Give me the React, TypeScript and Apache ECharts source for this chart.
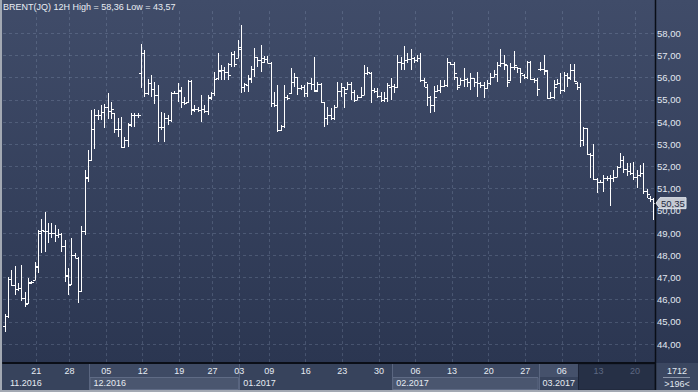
import React, { useEffect, useRef } from 'react';
import * as echarts from 'echarts';

const titleText = 'BRENT(JQ) 12H High = 58,36 Low = 43,57';

// 12H bars: [open, high, low, close]
const ohlc: number[][] = [
  [44.8, 45.35, 44.55, 45.25], [45.25, 47.04, 45.17, 46.95], [46.95, 47.34, 46.6, 46.67], [46.67, 47.5, 46.2, 46.47],
  [46.47, 46.77, 46.41, 46.55], [46.55, 47.57, 45.96, 46.1], [46.1, 46.37, 45.69, 45.8], [45.86, 46.97, 45.81, 46.8],
  [46.75, 46.86, 46.7, 46.8], [46.9, 47.72, 46.89, 47.49], [47.5, 49.14, 47.22, 49.0], [49.1, 49.62, 48.12, 49.14],
  [49.1, 49.97, 48.17, 49.1], [49.1, 49.45, 48.55, 49.0], [49.0, 49.47, 48.77, 49.0], [49.0, 49.37, 48.62, 48.9],
  [48.9, 49.17, 48.77, 48.95], [48.95, 49.02, 48.17, 48.42], [48.4, 48.69, 46.81, 47.08], [47.1, 47.42, 46.22, 46.67],
  [46.7, 48.77, 46.65, 48.0], [48.0, 48.1, 47.87, 47.9], [47.9, 47.94, 45.87, 46.41], [46.4, 49.32, 46.37, 49.1],
  [49.1, 51.85, 48.92, 51.54], [51.5, 52.75, 51.3, 52.3], [52.3, 54.55, 52.25, 53.7], [53.7, 54.6, 52.8, 54.3],
  [54.3, 54.55, 54.1, 54.3], [54.3, 54.77, 54.1, 54.47], [54.47, 54.8, 53.73, 54.7], [54.7, 55.33, 54.13, 54.5],
  [54.5, 54.92, 54.13, 54.6], [54.4, 54.42, 53.5, 53.7], [53.7, 54.17, 53.35, 53.68], [53.7, 54.22, 52.82, 52.9],
  [52.9, 53.35, 52.82, 53.2], [53.2, 53.95, 52.9, 53.87], [53.9, 54.42, 53.8, 54.3], [54.3, 54.42, 53.8, 54.3],
  [54.3, 54.4, 54.2, 54.32], [56.2, 57.52, 55.52, 57.1], [57.1, 57.25, 55.15, 55.3], [55.3, 55.93, 55.22, 55.75],
  [55.75, 56.1, 55.15, 55.5], [55.5, 55.82, 54.82, 55.22], [55.22, 55.67, 53.12, 53.8], [53.8, 54.47, 53.65, 53.8],
  [53.8, 54.4, 53.12, 54.17], [54.17, 54.32, 53.87, 54.1], [54.1, 55.37, 54.0, 55.3], [55.3, 55.4, 55.25, 55.33],
  [55.33, 55.78, 54.92, 55.45], [55.4, 55.6, 54.62, 54.9], [54.9, 55.15, 54.77, 54.85], [54.9, 55.9, 54.85, 55.85],
  [55.85, 55.9, 54.32, 54.6], [54.55, 54.77, 54.47, 54.6], [54.6, 54.7, 54.47, 54.55], [54.55, 55.22, 54.02, 54.6],
  [54.6, 54.77, 54.4, 54.5], [54.5, 55.22, 54.32, 55.1], [55.15, 55.37, 55.0, 55.3], [55.3, 56.27, 55.18, 55.95],
  [56.0, 57.1, 55.9, 56.3], [56.35, 56.57, 55.9, 56.35], [56.35, 56.5, 55.9, 56.27], [56.27, 56.65, 55.9, 56.1],
  [56.6, 57.17, 56.5, 57.05], [57.05, 57.2, 56.5, 56.6], [56.9, 57.7, 56.9, 57.3], [57.4, 58.36, 55.3, 55.6],
  [55.6, 55.75, 55.37, 55.7], [55.67, 56.12, 55.37, 55.95], [55.97, 56.53, 55.75, 56.4], [56.4, 57.32, 56.05, 56.95],
  [56.95, 56.95, 56.5, 56.8], [56.8, 57.47, 56.27, 56.7], [56.87, 56.98, 56.65, 56.85], [56.85, 56.98, 56.65, 56.68],
  [56.68, 56.72, 54.7, 54.85], [54.85, 55.37, 54.7, 54.75], [54.75, 55.67, 53.57, 53.65], [53.65, 53.87, 53.6, 53.83],
  [53.83, 55.67, 53.72, 55.15], [55.15, 55.22, 55.0, 55.1], [55.3, 56.42, 55.25, 55.8], [55.8, 56.23, 55.6, 56.05],
  [56.05, 56.05, 55.22, 55.52], [55.52, 55.65, 55.45, 55.57], [55.57, 55.67, 55.15, 55.33], [55.33, 55.82, 55.15, 55.75],
  [55.75, 55.97, 55.45, 55.7], [55.7, 56.95, 55.37, 55.45], [55.42, 55.82, 55.37, 55.7], [55.7, 55.75, 54.85, 54.9],
  [54.9, 54.9, 53.77, 54.17], [54.17, 54.7, 53.87, 54.32], [54.32, 54.62, 54.1, 54.17], [54.17, 54.77, 54.1, 54.7],
  [54.7, 55.82, 54.7, 55.42], [55.42, 55.75, 55.15, 55.6], [55.6, 55.6, 54.62, 55.3], [55.5, 55.82, 55.45, 55.7],
  [55.7, 55.82, 55.0, 55.37], [55.37, 55.45, 54.92, 55.0], [55.0, 55.22, 54.98, 55.15], [55.15, 55.6, 55.1, 55.22],
  [55.22, 56.57, 55.2, 56.2], [56.2, 56.5, 56.12, 56.27], [56.2, 56.25, 54.85, 55.45], [55.45, 55.52, 55.3, 55.42],
  [55.42, 55.52, 55.07, 55.18], [55.18, 55.37, 54.92, 55.0], [55.0, 55.37, 54.92, 55.07], [55.07, 55.75, 54.92, 55.67],
  [55.6, 55.97, 55.0, 55.63], [55.63, 55.7, 55.3, 55.6], [55.6, 57.02, 55.55, 56.72], [56.72, 56.95, 56.35, 56.68],
  [56.68, 57.43, 56.35, 56.8], [56.8, 57.1, 56.65, 56.85], [56.85, 57.28, 56.35, 56.9], [56.9, 56.95, 56.65, 56.8],
  [56.8, 57.02, 56.72, 56.87], [56.87, 57.1, 55.82, 55.9], [55.9, 55.97, 55.6, 55.82], [55.6, 55.7, 54.72, 55.15],
  [55.15, 55.18, 54.42, 54.77], [54.77, 55.63, 54.47, 55.15], [55.4, 55.67, 55.37, 55.45], [55.45, 55.9, 55.3, 55.63],
  [55.63, 55.9, 55.6, 55.65], [55.65, 56.87, 55.6, 56.72], [56.72, 56.72, 56.57, 56.6], [56.6, 56.72, 55.9, 56.23],
  [56.05, 56.05, 55.45, 55.6], [55.67, 55.97, 55.65, 55.9], [55.9, 56.42, 55.6, 55.93], [55.93, 55.97, 55.6, 55.82],
  [55.82, 56.2, 55.45, 55.97], [55.97, 55.97, 55.6, 55.82], [55.82, 56.27, 55.15, 55.75], [55.75, 55.82, 55.52, 55.67],
  [55.67, 55.82, 55.07, 55.52], [55.52, 55.9, 55.5, 55.75], [55.75, 56.2, 55.67, 56.05], [56.05, 56.35, 56.05, 56.17],
  [56.17, 56.72, 55.82, 56.57], [56.57, 57.28, 56.5, 56.65], [56.65, 57.02, 56.35, 56.62], [56.57, 56.57, 55.6, 55.82],
  [55.9, 56.65, 55.85, 56.5], [56.5, 57.2, 56.35, 56.57], [56.5, 56.5, 56.2, 56.42], [56.42, 56.45, 55.75, 56.2],
  [56.1, 56.15, 55.93, 56.02], [56.02, 56.77, 55.93, 56.7], [56.72, 56.77, 55.9, 55.95], [55.93, 55.97, 55.75, 55.9],
  [55.9, 55.97, 55.18, 55.5], [56.4, 56.72, 56.32, 56.38], [56.38, 57.02, 56.1, 56.33], [56.3, 56.35, 55.03, 55.1],
  [55.1, 55.37, 55.03, 55.12], [55.12, 55.9, 55.03, 55.6], [55.7, 55.93, 55.67, 55.75], [55.75, 56.2, 55.27, 55.45],
  [55.45, 56.27, 55.37, 56.12], [56.12, 56.2, 55.6, 56.02], [56.0, 56.62, 55.9, 56.35], [56.35, 56.62, 55.8, 55.85],
  [55.75, 55.8, 55.45, 55.57], [55.57, 55.75, 52.9, 53.2], [53.2, 53.8, 52.93, 53.72], [53.72, 53.72, 52.52, 52.57],
  [52.57, 52.6, 51.47, 52.5], [52.5, 53.0, 51.4, 51.43], [51.43, 51.47, 50.8, 51.3], [51.3, 51.4, 51.25, 51.28],
  [51.28, 51.62, 50.87, 51.47], [51.47, 51.58, 51.37, 51.5], [51.5, 51.62, 50.22, 51.5], [51.5, 51.85, 51.32, 51.55],
  [51.55, 52.03, 51.55, 51.97], [51.97, 52.63, 51.92, 52.3], [52.3, 52.48, 51.7, 51.9], [51.9, 52.15, 51.58, 51.8],
  [51.8, 52.17, 51.62, 51.7], [51.7, 52.22, 51.4, 51.55], [51.55, 51.85, 51.02, 51.6], [51.6, 52.07, 51.55, 51.7],
  [51.7, 52.17, 50.77, 50.9], [50.9, 50.98, 50.57, 50.77], [50.6, 50.65, 50.42, 50.53], [50.53, 50.57, 49.6, 50.35],
];

// day labels: bar index where the week starts
const dayTicks = [
  { k: 10, label: '21' }, { k: 20, label: '28' }, { k: 31, label: '05' }, { k: 42, label: '12' },
  { k: 53, label: '19' }, { k: 63, label: '27' }, { k: 71, label: '03' }, { k: 80, label: '09' },
  { k: 91, label: '16' }, { k: 102, label: '23' }, { k: 113, label: '30' }, { k: 124, label: '06' },
  { k: 135, label: '13' }, { k: 146, label: '20' }, { k: 157, label: '27' }, { k: 168, label: '06' },
  { k: 179, label: '13' }, { k: 190, label: '20' },
];
const months = [
  { k: 0, label: '11.2016', light: false },
  { k: 26, label: '12.2016', light: true },
  { k: 71, label: '01.2017', light: false },
  { k: 117, label: '02.2017', light: true },
  { k: 161, label: '03.2017', light: false },
];
const darkFrom = 173; // start of the dimmed range on the time axis
const cornerTime = '1712';

const FONT = '"Liberation Sans", Arial, sans-serif';
const W = 698;
const H = 392;
const BAND_TOP = 363;

export default function App() {
  const ref = useRef<HTMLDivElement>(null);
  useEffect(() => {
    const el = ref.current!;
    const chart = echarts.init(el, null, { renderer: 'svg', width: W, height: H });
    const tickMap = new Map(dayTicks.map((d) => [d.k, d.label]));
    const cats = ohlc.map((_, i) => String(i));
    const data = ohlc.map((d, i) => [i, d[0], d[1], d[2], d[3]]);
    const gridColor = 'rgba(170,185,215,0.22)';

    const option: any = {
      animation: false,
      backgroundColor: new echarts.graphic.LinearGradient(0, 0, 0, 1, [
        { offset: 0, color: '#404c69' },
        { offset: 0.93, color: '#2b3651' },
        { offset: 1, color: '#2b3651' },
      ]),
      title: {
        text: titleText,
        left: 3,
        top: 2,
        padding: 0,
        textStyle: { color: '#e9edf3', fontSize: 9, fontWeight: 'normal', fontFamily: FONT },
      },
      grid: { left: 3, right: 43, top: 11.1, bottom: H - BAND_TOP, containLabel: false },
      xAxis: {
        type: 'category',
        data: cats,
        boundaryGap: true,
        z: 3,
        axisLine: { show: true, lineStyle: { color: '#0a0e17', width: 2 } },
        axisTick: { show: false },
        axisLabel: {
          interval: (i: number) => tickMap.has(i),
          formatter: (v: string) => tickMap.get(Number(v)) ?? '',
          color: (v: string) => (Number(v) >= darkFrom ? '#5d6882' : '#e6ebf2'),
          fontSize: 9,
          fontFamily: FONT,
          margin: 3,
          padding: [0, 3.3, 0, 0],
        },
        splitLine: {
          show: true,
          interval: (i: number) => tickMap.has(i),
          lineStyle: { color: gridColor, type: [3, 3], width: 1 },
        },
      },
      yAxis: {
        type: 'value',
        position: 'right',
        min: 43.15,
        max: 59,
        minInterval: 1,
        maxInterval: 1,
        scale: true,
        axisLine: { show: false },
        axisTick: { show: false },
        splitLine: {
          show: true,
          showMinLine: false,
          showMaxLine: false,
          lineStyle: { color: gridColor, type: [3, 3], width: 1 },
        },
        axisLabel: {
          formatter: (v: number) => (v < 43.5 || v > 58.5 ? '' : v.toFixed(2).replace('.', ',')),
          color: '#e2e8f0',
          fontSize: 9.5,
          fontFamily: FONT,
          margin: 2,
        },
      },
      series: [
        {
          type: 'custom',
          data,
          encode: { x: 0, y: [1, 2, 3, 4] },
          renderItem: (params: any, api: any) => {
            const i = api.value(0);
            const p = api.coord([i, api.value(1)]);
            const yH = api.coord([i, api.value(2)])[1];
            const yL = api.coord([i, api.value(3)])[1];
            const yC = api.coord([i, api.value(4)])[1];
            const cx = Math.round(p[0]) + 0.5;
            const yO = Math.round(p[1]) + 0.5;
            const yc = Math.round(yC) + 0.5;
            const style = { stroke: '#ffffff', lineWidth: 1 };
            return {
              type: 'group',
              children: [
                { type: 'line', shape: { x1: cx, y1: Math.round(yH), x2: cx, y2: Math.max(Math.round(yL), Math.round(yH) + 1) }, style },
                { type: 'line', shape: { x1: cx - 2.5, y1: yO, x2: cx, y2: yO }, style },
                { type: 'line', shape: { x1: cx, y1: yc, x2: cx + 2.5, y2: yc }, style },
              ],
            };
          },
        },
      ],
    };
    chart.setOption(option);

    // decorations positioned through the chart's own scales
    const c0 = chart.convertToPixel({ xAxisIndex: 0 }, 0) as number;
    const c1 = chart.convertToPixel({ xAxisIndex: 0 }, 1) as number;
    const bw = c1 - c0;
    const bound = (k: number) => c0 - bw / 2 + k * bw;
    const right = bound(ohlc.length);
    const last = ohlc[ohlc.length - 1][3];
    const yLast = chart.convertToPixel({ yAxisIndex: 0 }, last) as number;

    const g: any[] = [];
    g.push({ type: 'rect', z: 1, shape: { x: 0, y: BAND_TOP, width: W, height: H - BAND_TOP }, style: { fill: '#37435c' } });
    months.forEach((m, idx) => {
      const x0 = bound(m.k);
      const x1 = idx + 1 < months.length ? bound(months[idx + 1].k) : bound(darkFrom);
      if (m.light) {
        g.push({ type: 'rect', z: 1, shape: { x: x0, y: BAND_TOP + 1, width: x1 - x0, height: 13 }, style: { fill: '#3e4a64' } });
        g.push({ type: 'rect', z: 1, shape: { x: x0 + 0.5, y: BAND_TOP + 14.5, width: x1 - x0 - 1, height: 12 }, style: { fill: '#4a566f', stroke: '#5f6b85', lineWidth: 1 } });
      } else if (idx === months.length - 1) {
        g.push({ type: 'rect', z: 1, shape: { x: x0, y: BAND_TOP + 1, width: x1 - x0, height: 13 }, style: { fill: '#45516b' } });
      }
      if (idx > 0) {
        g.push({ type: 'line', z: 1, shape: { x1: Math.round(x0) + 0.5, y1: BAND_TOP, x2: Math.round(x0) + 0.5, y2: H - 2 }, style: { stroke: '#5a6680', lineWidth: 1 } });
      }
      g.push({
        type: 'text', z: 4,
        style: { text: m.label, x: Math.max(x0 + 4, 10), y: 383, fill: '#e6ebf2', fontSize: 9, fontFamily: FONT, verticalAlign: 'middle', align: 'left' },
      });
    });
    const xd = bound(darkFrom);
    g.push({ type: 'rect', z: 1, shape: { x: xd, y: BAND_TOP + 1, width: right - xd, height: H - BAND_TOP - 3 }, style: { fill: '#263046', stroke: '#1d2436', lineWidth: 1 } });
    // corner box
    g.push({ type: 'rect', z: 1, shape: { x: right, y: BAND_TOP, width: W - right, height: H - BAND_TOP - 2 }, style: { fill: '#3b4761' } });
    g.push({ type: 'text', z: 4, style: { text: cornerTime, x: 677, y: 371, fill: '#e2e8f0', fontSize: 9, fontFamily: FONT, align: 'center', verticalAlign: 'middle' } });
    g.push({ type: 'line', z: 4, shape: { x1: 663, y1: 377.5, x2: 690, y2: 377.5 }, style: { stroke: '#8a94a8', lineWidth: 1 } });
    g.push({ type: 'text', z: 4, style: { text: '>' + ohlc.length + '<', x: 677, y: 384, fill: '#e2e8f0', fontSize: 9, fontFamily: FONT, align: 'center', verticalAlign: 'middle' } });
    // frame lines
    g.push({ type: 'line', z: 10, shape: { x1: Math.round(right) + 0.5, y1: 0, x2: Math.round(right) + 0.5, y2: H }, style: { stroke: '#0a0e17', lineWidth: 1.5 } });
    g.push({ type: 'rect', z: 10, shape: { x: 0, y: 0, width: 2, height: H }, style: { fill: '#a3a9b3' } });
    g.push({ type: 'rect', z: 10, shape: { x: 0, y: H - 2, width: W, height: 2 }, style: { fill: '#a3a9b3' } });
    // last price marker
    const mx = Math.round(right) + 1;
    g.push({
      type: 'polygon', z: 10,
      shape: { points: [[mx, yLast], [mx + 4, yLast - 5.5], [mx + 30, yLast - 5.5], [mx + 30, yLast + 5.5], [mx + 4, yLast + 5.5]] },
      style: { fill: '#c4c9d2', stroke: '#dfe3ea', lineWidth: 1 },
    });
    g.push({
      type: 'text', z: 11,
      style: { text: last.toFixed(2).replace('.', ','), x: mx + 5, y: yLast, fill: '#1e2840', fontSize: 9.5, fontFamily: FONT, verticalAlign: 'middle', align: 'left' },
    });
    chart.setOption({ graphic: g });

    return () => chart.dispose();
  }, []);
  return <div ref={ref} style={{ position: 'fixed', left: 0, top: 0, width: W, height: H }} />;
}
